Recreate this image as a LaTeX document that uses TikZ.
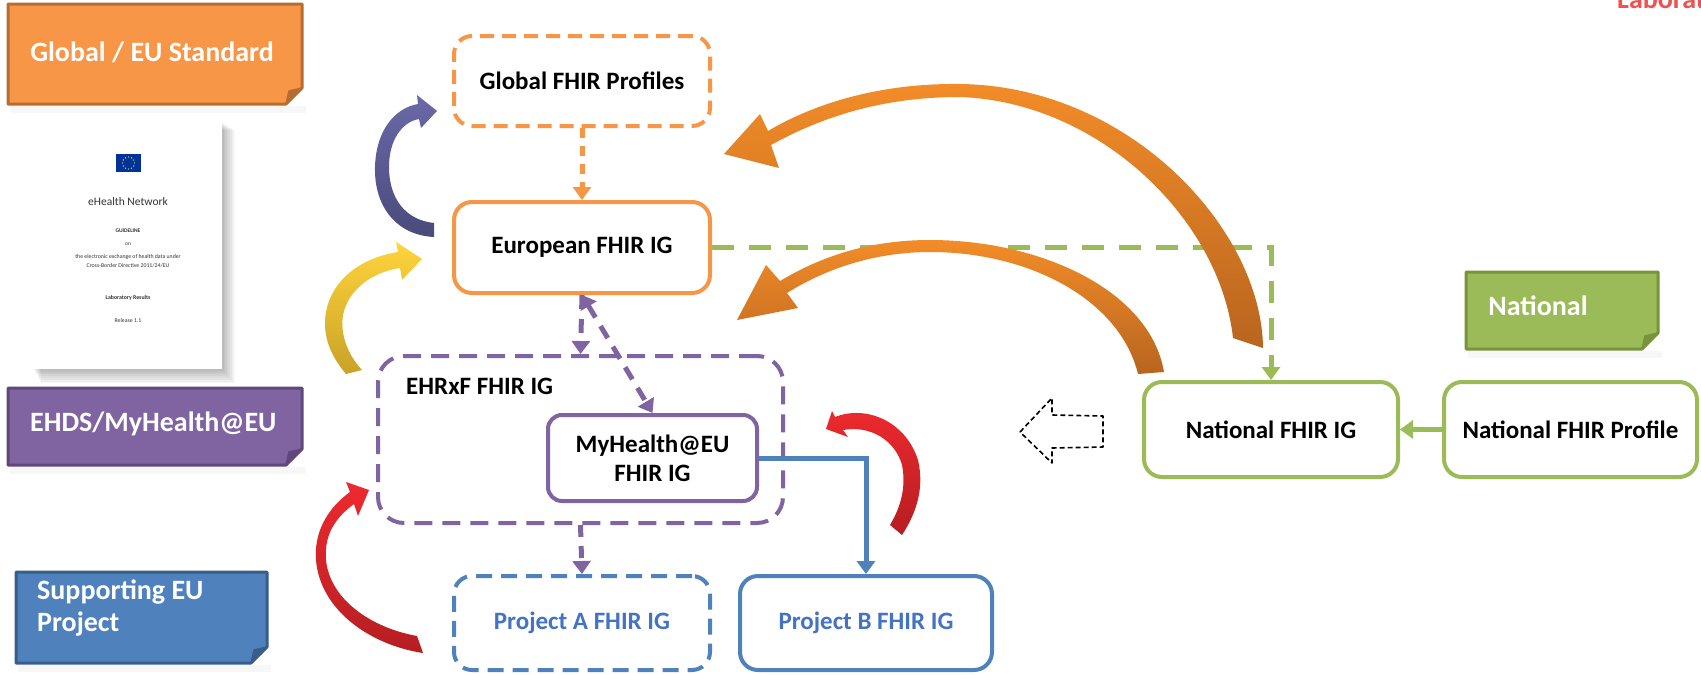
\documentclass[tikz,border=0pt]{standalone}
\usepackage{fontspec}
\setmainfont{Carlito}
\usetikzlibrary{arrows.meta}
\definecolor{orA}{HTML}{F79646}
\definecolor{orB}{HTML}{B66D31}
\definecolor{puA}{HTML}{8064A2}
\definecolor{puB}{HTML}{5F497A}
\definecolor{blA}{HTML}{4F81BD}
\definecolor{blB}{HTML}{385D8A}
\definecolor{grA}{HTML}{9BBB59}
\definecolor{grB}{HTML}{77933C}
\definecolor{txtblue}{HTML}{4472C4}
\definecolor{labred}{HTML}{F0504F}
\definecolor{eublue}{HTML}{003399}
\definecolor{ribPa}{HTML}{6B69A8}
\definecolor{ribPb}{HTML}{4A4A7C}
\definecolor{ribYa}{HTML}{FFD43B}
\definecolor{ribYb}{HTML}{C9A227}
\definecolor{ribOa}{HTML}{F28C28}
\definecolor{ribOb}{HTML}{B8651F}
\definecolor{ribRa}{HTML}{EE2A2F}
\definecolor{ribRb}{HTML}{B51E22}
\newcommand\foldbox[6]{%
  \fill[black,opacity=0.03] (#1+2,#4+2) rectangle (#3+4,#4+9);
  \filldraw[fill=#5, draw=#6, line width=3pt, line join=round] (#1,#2) -- (#3,#2) -- (#3,#4-16) -- (#3-16,#4) -- (#1,#4) -- cycle;
  \filldraw[fill=#6, draw=#6, line width=1.5pt, line join=round] (#3,#4-16) -- (#3-16,#4) -- (#3-13,#4-13) -- cycle;
}
\tikzset{
  mainbox/.style={rounded corners=18pt, line width=4pt, fill=white, align=center, inner sep=0pt,
    font=\fontsize{25}{29}\selectfont\bfseries},
  lbltext/.style={text=white, font=\fontsize{28}{33}\selectfont\bfseries, inner sep=0pt},
  tipA/.style={-{Triangle[width=18pt,length=13pt]}},
  tipB/.style={{Triangle[width=18pt,length=13pt]}-{Triangle[width=18pt,length=13pt]}},
  doctext/.style={inner sep=0pt, text=black!80},
}
\begin{document}
\begin{tikzpicture}[x=1pt,y=-1pt]
\useasboundingbox (0,0) rectangle (1701,675);
\fill[white] (0,0) rectangle (1701,675);

% ---- document page with shadow ----
\foreach \i in {1,...,8} \fill[black,opacity=0.035] (33+\i,122+\i) rectangle (222+1.6*\i,369+1.8*\i);
\fill[white] (33,122) rectangle (222,369);
\fill[eublue] (116,154) rectangle (141,172);
\foreach \a in {0,30,...,330} \fill[yellow!90!orange] ([shift={(\a:6)}]128.5,163) circle (0.7);
\node[doctext, font=\fontsize{11.5}{13}\selectfont] (dtitle) at (128,202) {eHealth Network};
\node[doctext, font=\fontsize{5.5}{6}\selectfont\bfseries] (dguide) at (128,231) {GUIDELINE};
\node[doctext, font=\fontsize{5.5}{6}\selectfont] (don) at (128,244) {on};
\node[doctext, font=\fontsize{5.8}{6.5}\selectfont] (dl1) at (128,257) {the electronic exchange of health data under};
\node[doctext, font=\fontsize{5.8}{6.5}\selectfont] (dl2) at (128,265.5) {Cross-Border Directive 2011/24/EU};
\node[doctext, font=\fontsize{5.8}{6.5}\selectfont\bfseries] (dlab) at (128,298) {Laboratory Results};
\node[doctext, font=\fontsize{5.8}{6.5}\selectfont] (drel) at (128,321) {Release 1.1};

% ---- left / right label boxes ----
\foldbox{8}{4}{302}{104}{orA}{orB}
\node[lbltext] (lglobal) at (152,52) {Global / EU Standard};
\foldbox{8}{388}{302}{465}{puA}{puB}
\node[lbltext, anchor=west] (lehds) at (30,424) {EHDS/MyHealth@EU};
\foldbox{16}{572}{267}{663}{blA}{blB}
\node[lbltext, anchor=north west, align=left, font=\fontsize{28}{32}\selectfont\bfseries] (lsupp) at (37,580) {Supporting EU\\Project};
\foldbox{1466}{272}{1658}{349}{grA}{grB}
\node[lbltext] (lnat) at (1538,306) {National};
\node[anchor=base west, inner sep=0pt, text=labred, font=\fontsize{28}{33}\selectfont\bfseries] (llab) at (1617,8) {Laborat};

% ---- main boxes ----
\node[mainbox, draw=orA, dashed, dash pattern=on 14pt off 8pt, minimum width=256pt, minimum height=90pt] (gfp) at (582,81) {Global FHIR Profiles};
\node[mainbox, draw=orA, minimum width=256pt, minimum height=91pt] (eur) at (582,247.5) {European FHIR IG};
\node[mainbox, draw=puA, dashed, dash pattern=on 18pt off 10pt, rounded corners=26pt, minimum width=405pt, minimum height=167pt] (ehrxf) at (580.5,439.5) {};
\node[anchor=west, inner sep=0pt, font=\fontsize{25}{29}\selectfont\bfseries] (ehrxft) at (406,386) {EHRxF FHIR IG};
\node[mainbox, draw=puA, rounded corners=14pt, minimum width=209pt, minimum height=86pt] (mh) at (652.5,458) {MyHealth@EU\\FHIR IG};
\node[mainbox, draw=blA, dashed, dash pattern=on 16pt off 9pt, text=txtblue, minimum width=256pt, minimum height=94pt] (pa) at (582,623) {Project A FHIR IG};
\node[mainbox, draw=blA, text=txtblue, minimum width=252pt, minimum height=94pt] (pb) at (866,623) {Project B FHIR IG};
\node[mainbox, draw=grA, minimum width=254pt, minimum height=95pt] (nig) at (1271,429.5) {National FHIR IG};
\node[mainbox, draw=grA, minimum width=253pt, minimum height=95pt] (nfp) at (1570.5,429.5) {National FHIR Profile};

% ---- connectors ----
\draw[orA, line width=5pt, dash pattern=on 10pt off 8pt, tipA] (gfp.south) -- (eur.north);
\draw[grA, line width=5pt, dash pattern=on 22pt off 15pt, tipA] (eur.east) -| (nig.north);
\draw[puA, line width=5pt, dash pattern=on 14pt off 10pt, tipA] (eur.south) -- (ehrxf.north);
\draw[puA, line width=5pt, dash pattern=on 14pt off 10pt, tipB] (eur.south) -- (mh.north);
\draw[puA, line width=5pt, dash pattern=on 12pt off 9pt, tipA] (ehrxf.south) -- (pa.north);
\draw[blA, line width=5pt, tipA] (mh.east) -| (pb.north);
\draw[grA, line width=5pt, tipA] (nfp.west) -- (nig.east);

% ---- dashed block arrow ----
\draw[black, line width=1.6pt, dash pattern=on 5pt off 3pt, line join=round]
  (1020,432) -- (1052,398) -- (1052,415) -- (1103,416) -- (1103,447) -- (1052,448) -- (1052,463) -- cycle;

% ---- ribbon arrows ----
% purple
\shade[top color=ribPa, bottom color=ribPb] (434,237) .. controls (395,235) and (374,205) .. (375,167)
  .. controls (376,130) and (395,108) .. (418,104) -- (417,95) -- (437,111) -- (421,128) -- (419,119)
  .. controls (402,122) and (389,140) .. (389,167) .. controls (389,198) and (405,220) .. (434,223) -- cycle;
% yellow
\shade[top color=ribYa, bottom color=ribYb] (346,374) .. controls (330,355) and (322,335) .. (326,312)
  .. controls (332,280) and (360,258) .. (398,252) -- (396,242) -- (422,259) -- (402,280) -- (400,268)
  .. controls (372,272) and (348,290) .. (343,315) .. controls (340,335) and (348,355) .. (362,370) -- cycle;
% big orange (National IG -> Global Profiles)
\shade[top color=ribOa, bottom color=ribOb] (1263,348) .. controls (1262,230) and (1130,86) .. (960,84)
  .. controls (875,83) and (810,106) .. (768,131) -- (760,114) -- (724,154) -- (779,168) -- (771,145)
  .. controls (820,118) and (880,97) .. (960,97) .. controls (1100,102) and (1220,220) .. (1233,338) -- cycle;
% second orange (National IG -> European)
\shade[top color=ribOa, bottom color=ribOb] (1164,372) .. controls (1150,290) and (1040,240) .. (930,240)
  .. controls (860,240) and (812,262) .. (780,281) -- (766,265) -- (737,320) -- (798,308) -- (787,293)
  .. controls (830,266) and (880,252) .. (930,252) .. controls (1030,252) and (1120,300) .. (1138,374) -- cycle;
% red left
\shade[top color=ribRa, bottom color=ribRb] (350,492) .. controls (325,510) and (314,535) .. (316,560)
  .. controls (320,610) and (370,645) .. (423,653) -- (417,636) .. controls (372,628) and (330,600) .. (326,560)
  .. controls (324,535) and (335,518) .. (354,504) -- (358,516) -- (369,490) -- (346,482) -- cycle;
% red right
\shade[top color=ribRa, bottom color=ribRb] (835,417) .. controls (865,405) and (905,420) .. (918,460)
  .. controls (925,490) and (915,515) .. (902,535) -- (890,525) .. controls (902,505) and (906,485) .. (902,465)
  .. controls (895,440) and (870,425) .. (843,430) -- (848,437) -- (826,429) -- (832,411) -- cycle;
\end{tikzpicture}
\end{document}
